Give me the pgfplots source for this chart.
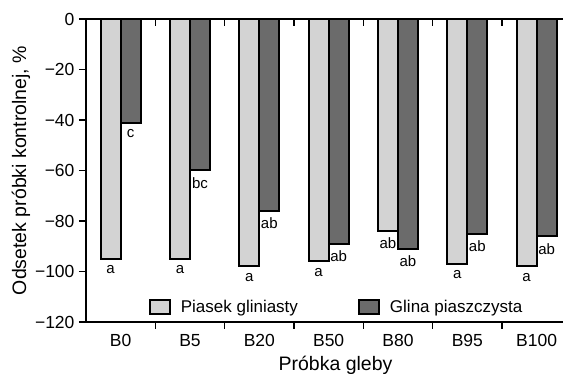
\documentclass[border=0pt]{standalone}
\usepackage{pgfplots}
\pgfplotsset{compat=1.18}
\usepackage{fontspec}
\setmainfont{Liberation Sans}
\definecolor{lightbar}{RGB}{211,211,211}
\definecolor{darkbar}{RGB}{107,107,107}
\begin{document}
\begin{tikzpicture}
\useasboundingbox (-86pt,-52pt) rectangle (477pt,322pt);
\begin{axis}[
  scale only axis, width=477pt, height=303pt,
  at={(0,0)}, anchor=south west,
  xmin=-0.5, xmax=6.38, ymin=-120, ymax=0,
  axis lines=left, axis line style={-, line width=1.6pt},
  ybar, bar width=20pt,
  ytick={-120,-100,...,0},
  yticklabels={−120,−100,−80,−60,−40,−20,0},
  xtick={0,...,6}, xticklabels={B0,B5,B20,B50,B80,B95,B100},
  minor xtick={0.5,1.5,...,5.5},
  major x tick style={draw=none},
  tick align=outside,
  major tick length=7pt, minor tick length=7pt,
  every tick/.style={line width=1.6pt, black},
  tick label style={font=\fontsize{17.5}{18}\selectfont},
  yticklabel style={xshift=-1pt},
  xticklabel style={yshift=-2pt},
  xlabel={Próbka gleby}, ylabel={Odsetek próbki kontrolnej, \%},
  label style={font=\fontsize{19.5}{20}\selectfont},
  xlabel style={yshift=-2pt, xshift=11pt},
  ylabel style={yshift=-2pt},
  point meta=explicit symbolic,
  nodes near coords,
  nodes near coords style={anchor=north, font=\fontsize{15}{15}\selectfont, inner sep=0pt, yshift=-6pt, black},
  legend columns=2,
  legend style={at={(0.125,0.012)}, anchor=south west, draw=none, fill=none,
    font=\fontsize{17}{18}\selectfont, column sep=8pt,
    /tikz/every even column/.append style={column sep=58pt}},
  clip=false,
]
\addplot[fill=lightbar, draw=black, line width=2pt, bar shift=-10pt,
  legend image code/.code={\draw[fill=lightbar, draw=black, line width=2pt] (0pt,-7pt) rectangle (20pt,7pt);}]
  coordinates {(0,-95)[a] (1,-95)[a] (2,-98)[a] (3,-96)[a] (4,-84)[ab] (5,-97)[a] (6,-98)[a]};
\addlegendentry{Piasek gliniasty}
\addplot[fill=darkbar, draw=black, line width=2pt, bar shift=10pt,
  legend image code/.code={\draw[fill=darkbar, draw=black, line width=2pt] (0pt,-7pt) rectangle (20pt,7pt);}]
  coordinates {(0,-41)[c] (1,-60)[bc] (2,-76)[ab] (3,-89)[ab] (4,-91)[ab] (5,-85)[ab] (6,-86)[ab]};
\addlegendentry{Glina piaszczysta}
\draw[line width=1.6pt] (axis cs:-0.5,0) -- (axis cs:6.38,0);
\pgfplotsinvokeforeach{0.5,1.5,2.5,3.5,4.5,5.5}{
  \draw[line width=1.6pt] (axis cs:#1,0) -- ++(0pt,-7pt);
}
\end{axis}
\end{tikzpicture}
\end{document}
